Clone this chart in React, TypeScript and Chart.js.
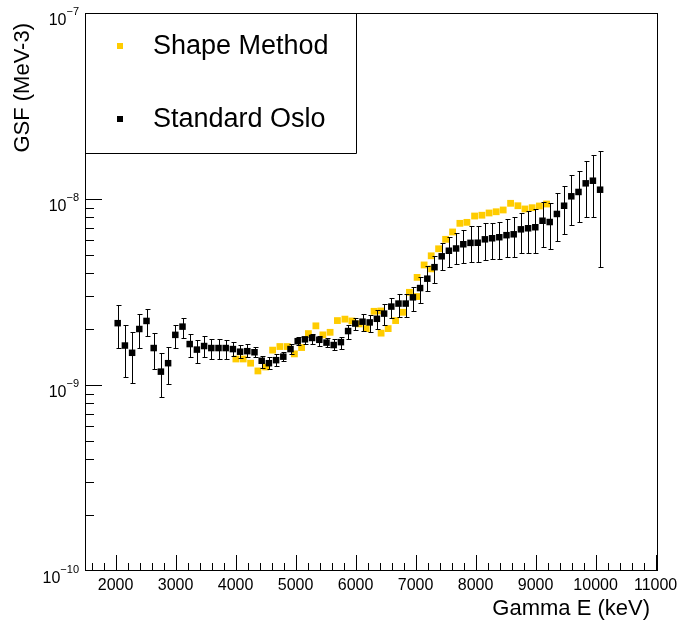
import React, { useEffect, useRef } from "react";
import { Chart, registerables } from "chart.js";

Chart.register(...registerables);

// ---------- data (GSF values in units of 1e-9 MeV^-3) ----------
const osloEnergy = [
  2035, 2155, 2275, 2395, 2515, 2635, 2755, 2875, 2995, 3115,
  3235, 3355, 3475, 3595, 3715, 3835, 3955, 4075, 4195, 4315,
  4435, 4555, 4675, 4795, 4915, 5035, 5155, 5275, 5395, 5515,
  5635, 5755, 5875, 5995, 6115, 6235, 6355, 6475, 6595, 6715,
  6835, 6955, 7075, 7195, 7315, 7435, 7555, 7675, 7795, 7915,
  8035, 8155, 8275, 8395, 8515, 8635, 8755, 8875, 8995, 9115,
  9235, 9355, 9475, 9595, 9715, 9835, 9955, 10075,
];
const osloGsf = [
  2.15, 1.63, 1.49, 2.0, 2.21, 1.58, 1.18, 1.31, 1.86, 2.06,
  1.66, 1.55, 1.62, 1.58, 1.58, 1.58, 1.56, 1.51, 1.52, 1.5,
  1.35, 1.31, 1.36, 1.42, 1.56, 1.72, 1.76, 1.79, 1.75, 1.69,
  1.64, 1.7, 1.95, 2.14, 2.19, 2.17, 2.27, 2.42, 2.64, 2.74,
  2.74, 2.96, 3.32, 3.73, 4.3, 4.92, 5.27, 5.42, 5.71, 5.81,
  5.82, 6.07, 6.15, 6.23, 6.39, 6.46, 6.87, 6.96, 7.05, 7.64,
  7.52, 8.31, 9.2, 10.34, 10.91, 12.14, 12.54, 11.22,
];
const osloLow = [
  1.59, 1.11, 1.02, 1.59, 1.83, 1.22, 0.865, 1.01, 1.58, 1.78,
  1.41, 1.32, 1.41, 1.38, 1.38, 1.38, 1.44, 1.39, 1.41, 1.41,
  1.23, 1.22, 1.27, 1.34, 1.47, 1.64, 1.67, 1.66, 1.63, 1.6,
  1.54, 1.57, 1.76, 1.98, 1.95, 1.93, 1.99, 2.11, 2.3, 2.33,
  2.31, 2.5, 2.75, 3.2, 3.55, 4.15, 4.31, 4.47, 4.55, 4.59,
  4.59, 4.72, 4.74, 4.75, 4.89, 4.9, 5.14, 5.14, 5.14, 5.54,
  5.41, 5.95, 6.48, 7.22, 7.49, 8.03, 7.97, 4.29,
];
const osloHigh = [
  2.7, 2.11, 1.92, 2.4, 2.57, 1.9, 1.48, 1.6, 2.11, 2.29,
  1.87, 1.75, 1.83, 1.76, 1.76, 1.74, 1.7, 1.65, 1.66, 1.6,
  1.44, 1.41, 1.46, 1.5, 1.66, 1.81, 1.82, 1.88, 1.83, 1.8,
  1.76, 1.82, 2.11, 2.28, 2.4, 2.39, 2.53, 2.72, 2.95, 3.1,
  3.07, 3.38, 3.82, 4.34, 4.94, 5.78, 6.25, 6.57, 6.84, 7.16,
  7.16, 7.39, 7.39, 7.55, 7.81, 7.97, 8.44, 8.65, 8.8, 9.67,
  9.48, 10.73, 11.79, 13.41, 14.2, 16.06, 17.24, 18.04,
];

const shapeEnergy = [
  4005, 4127, 4250, 4372, 4500, 4617, 4738, 4860, 4980, 5100,
  5213, 5338, 5455, 5575, 5697, 5822, 5938, 6060, 6177, 6308,
  6420, 6425, 6543, 6667, 6783, 6897, 7020, 7025, 7142, 7260,
  7267, 7383, 7500, 7617, 7738, 7855, 7983, 8105, 8225, 8343,
  8460, 8583, 8705, 8822, 8943, 9063, 9183,
];
const shapeGsf = [
  1.38, 1.38, 1.31, 1.19, 1.25, 1.54, 1.61, 1.61, 1.47, 1.59,
  1.89, 2.08, 1.86, 1.92, 2.22, 2.26, 2.21, 2.13, 2.01, 2.49,
  2.5, 1.9, 2.01, 2.22, 2.46, 3.15, 2.99, 3.79, 4.42, 4.95,
  4.21, 5.4, 6.07, 6.65, 7.4, 7.49, 8.1, 8.18, 8.41, 8.54,
  8.73, 9.48, 9.2, 8.84, 8.98, 9.17, 9.4,
];

const xTickLabels = ["2000", "3000", "4000", "5000", "6000", "7000", "8000", "9000", "10000", "11000"];
const yDecades = [-7, -8, -9, -10];
const legendLabels = ["Shape Method", "Standard Oslo"];
const xTitle = "Gamma E (keV)";
const yTitle = "GSF (MeV-3)";

const UNIT = 1e-9;
const YELLOW = "#ffcc00";
const FONT = "'Liberation Sans', Arial, Helvetica, sans-serif";

const rootPlugin = {
  id: "rootStyle",
  afterDatasetDraw(chart: any, args: any) {
    if (args.index !== 1) return;
    // error bars of Standard Oslo, drawn above the yellow markers, below the black ones
    const ctx = chart.ctx;
    const xs = chart.scales.x;
    const ys = chart.scales.y;
    ctx.save();
    ctx.strokeStyle = "#000";
    ctx.lineWidth = 1;
    ctx.beginPath();
    for (let i = 0; i < osloEnergy.length; i++) {
      const px = Math.round(xs.getPixelForValue(osloEnergy[i])) + 0.5;
      const yl = Math.round(ys.getPixelForValue(osloLow[i] * UNIT)) + 0.5;
      const yh = Math.round(ys.getPixelForValue(osloHigh[i] * UNIT)) + 0.5;
      ctx.moveTo(px, yl);
      ctx.lineTo(px, yh);
      ctx.moveTo(px - 2, yl);
      ctx.lineTo(px + 3, yl);
      ctx.moveTo(px - 2, yh);
      ctx.lineTo(px + 3, yh);
    }
    ctx.stroke();
    ctx.restore();
  },
  afterDraw(chart: any) {
    const ctx = chart.ctx;
    const xs = chart.scales.x;
    const ys = chart.scales.y;
    const { left, right, top, bottom } = chart.chartArea;
    ctx.save();
    ctx.strokeStyle = "#000";
    ctx.fillStyle = "#000";
    ctx.lineWidth = 1;

    // frame
    ctx.strokeRect(left + 0.5, top + 0.5, right - left - 1, bottom - top - 1);

    // x ticks
    ctx.beginPath();
    for (let v = 1600; v <= 11000; v += 200) {
      const px = Math.round(xs.getPixelForValue(v)) + 0.5;
      if (px <= left + 1 || px >= right - 1) continue;
      const len = v % 1000 === 0 ? 15 : 7;
      ctx.moveTo(px, bottom - 1);
      ctx.lineTo(px, bottom - 1 - len);
    }
    // y ticks
    for (let d = -10; d <= -8; d++) {
      for (let m = 1; m <= 9; m++) {
        const v = m * Math.pow(10, d);
        const py = Math.round(ys.getPixelForValue(v)) + 0.5;
        if (py <= top + 1 || py >= bottom - 1) continue;
        const len = m === 1 ? 17 : 9;
        ctx.moveTo(left, py);
        ctx.lineTo(left + len, py);
      }
    }
    ctx.stroke();

    // x labels
    ctx.font = `16px ${FONT}`;
    ctx.textAlign = "center";
    ctx.textBaseline = "middle";
    xTickLabels.forEach((t) => {
      const px = xs.getPixelForValue(Number(t));
      ctx.fillText(t, px, bottom + 15);
    });

    // y labels: 10^d
    yDecades.forEach((d) => {
      const py = ys.getPixelForValue(Math.pow(10, d));
      const exp = "\u2212" + String(-d);
      ctx.font = `11px ${FONT}`;
      ctx.textAlign = "right";
      ctx.textBaseline = "alphabetic";
      const ew = ctx.measureText(exp).width;
      const xr = left - 6;
      ctx.fillText(exp, xr, py + 2);
      ctx.font = `16px ${FONT}`;
      ctx.fillText("10", xr - ew, py + 12);
    });

    // axis titles
    ctx.font = `22px ${FONT}`;
    ctx.textAlign = "right";
    ctx.textBaseline = "middle";
    ctx.fillText(xTitle, right - 8, bottom + 38);
    ctx.save();
    ctx.translate(23, top + 10);
    ctx.rotate(-Math.PI / 2);
    ctx.fillText(yTitle, 0, 0);
    ctx.restore();

    // legend
    const lx1 = left, ly1 = top, lx2 = 356, ly2 = 153;
    ctx.fillStyle = "#fff";
    ctx.fillRect(lx1 + 1, ly1 + 1, lx2 - lx1 - 1, ly2 - ly1 - 1);
    ctx.beginPath();
    ctx.moveTo(lx2 + 0.5, ly1);
    ctx.lineTo(lx2 + 0.5, ly2 + 0.5);
    ctx.lineTo(lx1, ly2 + 0.5);
    ctx.stroke();
    const rows = [
      { y: 46, color: YELLOW },
      { y: 119, color: "#000" },
    ];
    ctx.font = `27px ${FONT}`;
    ctx.textAlign = "left";
    ctx.textBaseline = "middle";
    rows.forEach((r, i) => {
      ctx.fillStyle = r.color;
      ctx.fillRect(117, r.y - 3, 6, 6);
      ctx.fillStyle = "#000";
      ctx.fillText(legendLabels[i], 153, r.y + 1);
    });
    ctx.restore();
  },
};

export default function App() {
  const ref = useRef<HTMLCanvasElement | null>(null);
  useEffect(() => {
    if (!ref.current) return;
    const chart = new Chart(ref.current, {
      type: "scatter",
      data: {
        datasets: [
          {
            label: legendLabels[1],
            data: osloEnergy.map((e, i) => ({ x: e, y: osloGsf[i] * UNIT })),
            backgroundColor: "#000",
            pointStyle: "rect",
            pointRadius: 4.6,
            pointBorderWidth: 0,
            order: 0,
          },
          {
            label: legendLabels[0],
            data: shapeEnergy.map((e, i) => ({ x: e, y: shapeGsf[i] * UNIT })),
            backgroundColor: YELLOW,
            pointStyle: "rect",
            pointRadius: 4.8,
            pointBorderWidth: 0,
            order: 1,
          },
        ],
      },
      options: {
        responsive: false,
        animation: false,
        devicePixelRatio: 1,
        events: [],
        layout: { padding: { left: 85, top: 13, right: 20, bottom: 53 } },
        plugins: { legend: { display: false }, tooltip: { enabled: false } },
        scales: {
          x: { type: "linear", min: 1490, max: 11040, display: false },
          y: { type: "logarithmic", min: 1e-10, max: 1e-7, display: false },
        },
      },
      plugins: [rootPlugin],
    });
    return () => chart.destroy();
  }, []);
  return (
    <div style={{ position: "absolute", left: 0, top: 0, width: 678, height: 624, background: "#fff" }}>
      <canvas ref={ref} width={678} height={624} />
    </div>
  );
}
